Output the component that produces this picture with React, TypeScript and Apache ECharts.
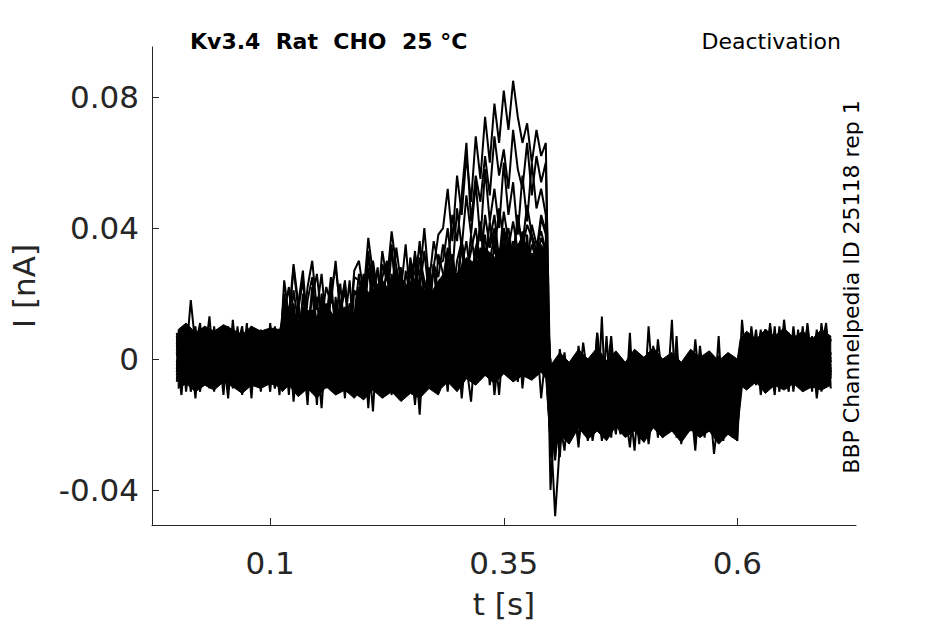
import React, { useEffect, useRef } from "react";
import * as echarts from "echarts";

// Sampling grid (s). Each trace is split into protocol segments; segment k starts at SEGMENT_STARTS[k].
const DT = 0.005;
const SEGMENT_STARTS = [0, 0.115, 0.195, 0.285, 0.4, 0.605];

// Current traces in pA, one array per protocol segment.
const trace1 = [
  [3, -6, 8, -4, 1, -9, 5, -2, 7, -7, 0, 6, -5, 2, -8, 9, -3, 4, -6, 1, -10, 6, -1],
  [-4, 7, -13, 3, -2, 9, -6, 1, -15, 5, -3, 8, -5, 2, -7, 4],
  [6, -5, 2, -16, 8, -3, 5, -7, 1, 10, -4, 3, -14, 6, -2, -6, 9, -1],
  [-5, 8, -2, 6, -12, 4, 1, -6, 10, -3, 7, -11, 2, 5, -4, 9, -7, 3, -1, 6, -5, 8, -2],
  [-25, -3, -15, 1, -11, -4, -17, 0, -9, -13, -2, -16, -6, 2, -12, -8, -19, -1, -10, -5, -14, 10, -9, -18, -3, -7, -13, 0, -11, -16, -4, -8, 1, -15, -6, -12, -2, -17, -5, -10, -1],
  [5, -7, 3, -4, 8, -2, -9, 6, -1, 4, -6, 9, -3, 1, -8, 5, -5, 2, 7, -4],
];
const trace2 = [
  [-7, 4, -2, 9, -5, 2, -8, 6, -1, 3, -11, 7, -4, 5, -6, 1, 8, -3, -7, 4, -2, 10, -5],
  [9, -2, 6, -6, 11, -1, 4, -14, 8, 2, -4, 12, -3, 7, -5, 5],
  [12, -2, 9, 0, 14, -10, 7, 3, -3, 11, 1, 6, -13, 10, 4, -1, 13, 2],
  [4, 14, -1, 10, 6, -3, 12, 2, 9, -2, 15, 5, 0, 11, -4, 8, 13, 1, 7, -2, 10, 3, 6],
  [-13, -31, -5, -19, -9, -15, -3, -21, -10, -6, -17, -12, -1, -20, -8, -14, -4, -23, -11, -7, -16, -2, -13, -19, -9, -5, -22, -10, -15, -3, -18, -8, -12, -21, -6, -14, 7, -17, -11, -7, -20],
  [-6, 4, -3, 7, -8, 2, 5, -5, 10, -2, -7, 3, -4, 6, 1, -9, 4, -1, 8, -6],
];
const trace3 = [
  [6, -3, 1, 18, 4, 11, -6, 2, -4, 7, -1, -9, 5, 0, -5, 8, -2, 3, -10, 6, -3, 1, 7],
  [2, 14, -3, 9, 5, -12, 13, 1, 8, -2, 11, 4, -4, 15, 0, 7],
  [16, 3, 12, 20, 5, 9, -1, 14, 22, 6, 11, 2, 17, 8, -2, 13, 19, 4],
  [12, 24, 9, 18, 6, 21, 14, 27, 10, 16, 23, 8, 19, 13, 26, 11, 20, 5, 17, 22, 9, 15, 24],
  [-4, -22, -10, -18, -6, -14, -25, -8, -12, -2, -17, 13, -21, -5, -13, -16, -1, -10, -19, -7, -14, -23, -4, -11, -8, -18, -13, -5, -20, -9, -15, -3, -12, -24, -7, -16, -10, -4, -19, -11, -14],
  [3, -8, 6, -2, -6, 9, -4, 1, -10, 4, -3, 7, -7, 2, -1, 5, -9, 3, 11, -5],
];
const trace4 = [
  [-3, 8, -9, 2, 5, -6, 10, -2, -7, 4, 1, -12, 6, -4, 9, -1, -6, 3, 7, -8, 2, -5, 4],
  [18, 3, 12, -2, 16, 7, 22, 1, 10, 14, -1, 19, 6, 11, 24, 4],
  [10, 24, 14, 30, 8, 20, 26, 12, 28, 16, 6, 22, 31, 13, 18, 27, 9, 21],
  [24, 14, 32, 20, 36, 12, 28, 24, 34, 16, 30, 38, 20, 26, 35, 15, 30, 24, 38, 18, 32, 22, 28],
  [-19, -11, -27, -15, -6, -22, -13, -18, -9, -25, -16, -12, -21, 4, -17, -23, -10, -14, -28, -8, -19, -15, -11, -24, -7, -16, -20, -13, -26, -9, -18, -22, -6, -15, -12, -29, -17, -10, -23, -14, -21],
  [-8, 2, -5, 6, -11, -1, 4, -7, 1, -4, 8, -9, -2, 5, -6, 3, -12, 0, 6, -3],
];
const trace5 = [
  [2, -11, 5, -3, 8, -7, 1, 13, -4, 6, -9, 3, -2, 7, -6, 4, -12, 8, -1, 5, -4, 0, -8],
  [8, -4, 14, 2, 20, 6, -1, 12, 17, 3, 9, -3, 15, 24, 5, 11],
  [22, 8, 28, 16, 12, 25, 30, 14, 20, 10, 27, 19, 33, 15, 24, 11, 29, 18],
  [24, 34, 18, 30, 36, 24, 38, 28, 42, 32, 36, 44, 30, 40, 34, 42, 33, 38, 28, 41, 35, 39, 33],
  [-40, -15, -30, -7, -19, -11, -3, -17, -8, -22, -5, -13, 7, -16, -10, -6, -21, -4, -12, -18, -2, -14, -9, -20, -7, -1, -15, -11, -25, -5, -17, -8, -13, -3, -19, -10, -6, -22, -12, -4, -16],
  [12, -3, 7, -6, 2, 9, -8, 4, -1, 6, -5, 10, -2, 3, -7, 5, 0, -4, 8, -9],
];
const trace6 = [
  [-5, 3, 9, -2, -8, 5, -4, 8, -6, 2, -1, 8, -9, 4, 10, -3, 6, -7, 1, -5, 7, -2, 3],
  [14, 22, 6, 17, 27, 9, 15, 4, 20, 12, 25, 7, 18, 13, 2, 21],
  [18, 26, 12, 30, 20, 24, 16, 33, 22, 28, 14, 27, 19, 31, 24, 17, 29, 25],
  [35, 28, 44, 36, 50, 66, 42, 56, 48, 62, 50, 68, 56, 64, 52, 70, 58, 52, 66, 50, 62, 54, 60],
  [-10, -26, -18, -6, -22, -13, -17, -8, -20, -14, 8, -23, -11, -16, -3, -19, -12, -7, -21, -15, -9, -24, -6, -13, -18, -10, 12, -20, -14, -8, -22, -12, -5, -17, -11, -19, -7, -15, -23, -10, -6],
  [-3, 6, -8, 1, 4, -5, 11, -2, 8, -6, 2, -10, 5, -1, 7, -4, 9, -7, 3, 6],
];
const trace7 = [
  [8, -2, 4, -10, 1, 6, -5, 3, -3, 9, -8, 2, 5, -1, -4, 11, -7, 0, 6, -3, 9, -9, 2],
  [-2, 10, 4, 16, -3, 8, 13, 1, 18, 6, -4, 11, 3, 15, 9, -1],
  [14, 6, 20, 11, 3, 17, 9, 25, 13, 7, 21, 15, 4, 19, 12, 26, 8, 16],
  [18, 32, 24, 22, 36, 26, 33, 40, 28, 44, 34, 40, 30, 45, 36, 32, 42, 35, 47, 38, 33, 44, 39],
  [-8, -24, -2, -16, -11, -5, -20, -7, -14, 0, -17, -10, -4, -22, -12, -6, -15, 8, -18, -9, -13, -3, -21, -8, -5, -16, -11, 7, -19, -7, -14, -10, -2, -23, -6, -12, -17, -4, -15, -9, -3],
  [6, -1, -7, 4, -3, 9, -5, 2, -8, 5, -2, 7, -6, 1, 10, -4, 3, -9, 4, -1],
];
const trace8 = [
  [-1, 6, -7, 3, 10, -4, 2, -9, 7, -2, 4, -6, 12, -3, 1, -8, 5, 3, -5, 9, -1, -6, 4],
  [20, 10, 28, 15, 24, 8, 19, 26, 12, 22, 17, 30, 14, 21, 9, 25],
  [24, 17, 31, 22, 27, 15, 29, 20, 34, 23, 18, 30, 26, 21, 33, 19, 28, 38],
  [40, 52, 36, 56, 44, 62, 48, 68, 55, 74, 60, 78, 66, 82, 70, 85, 74, 66, 72, 60, 70, 62, 66],
  [-20, -48, -26, -10, -21, -15, -6, -19, -12, -24, -8, -17, -4, -20, -13, -9, -23, -7, -16, -11, -2, -18, -14, -22, -5, -10, -17, -8, -25, -12, -6, -20, -15, -3, -18, -10, -14, -21, -7, -16, -9],
  [4, -6, 10, -2, 7, -9, 3, 5, -4, 12, -1, -7, 6, -3, 2, -10, 8, -5, 1, 6],
];
const trace9 = [
  [-4, 9, -8, 2, -12, 6, 1, -6, 10, -3, 4, -9, 7, -1, -5, 8, -10, 3, 5, -7, 11, -2, -6],
  [5, -11, 8, -4, 2, -14, 9, -1, 6, -9, 12, -5, 3, -12, 7, -2],
  [-8, 6, -15, 4, 10, -6, 1, -11, 8, -3, 13, -9, 2, -17, 7, -4, 11, -7],
  [3, -10, 9, -5, 12, -2, -13, 6, -1, 10, -8, 4, -11, 7, 0, -6, 11, -9, 5, -3, 8, -12, 2],
  [0, -17, 3, -9, -3, -13, 4, -7, -1, -11, 8, -5, -14, 1, -8, -2, -16, 3, -6, -10, 0, -4, -12, 6, -7, -1, -15, 2, -9, -3, -6, -13, 4, -8, -2, -11, 1, -5, -14, -1, -7],
  [-5, 8, -2, 6, -9, 3, -4, 10, -7, 1, 5, -6, 2, -10, 7, -3, 4, -8, 9, -1],
];
const trace10 = [
  [7, -5, 3, -1, -9, 8, -4, 5, -7, 2, 9, -3, -6, 4, -11, 6, 0, -4, 8, -8, 3, -2, 6],
  [-3, 9, 1, -8, 11, 4, -5, 7, -2, 13, 0, -6, 8, 3, -9, 10],
  [3, 12, -4, 9, 1, 15, -3, 7, -9, 11, 4, -2, 14, 6, -6, 9, 0, 12],
  [8, 16, 2, 12, -3, 18, 7, 11, -1, 15, 9, 3, 17, -2, 12, 6, 19, 4, 10, -4, 14, 8, 13],
  [-14, -30, -18, -6, -22, -11, -16, -4, -19, -13, -8, -24, -10, -17, -3, -15, -21, -9, -12, -26, -7, -14, -18, -5, -20, -11, -15, -8, -23, -2, -13, -17, -10, -21, -6, -16, -12, -25, -9, -14, -18],
  [2, -9, 5, -3, 8, -6, 1, -11, 6, -2, 3, -8, 9, -4, -1, 7, -7, 4, -5, 2],
];
const trace11 = [
  [-2, 5, -10, 7, -3, 1, 9, -7, 4, -5, 6, -2, -8, 10, -4, 2, -6, 7, -9, 3, -1, 5, -3],
  [12, 0, 17, 6, -3, 14, 9, 19, 2, 11, -2, 16, 7, 13, -1, 10],
  [20, 9, 16, 4, 23, 13, 8, 26, 15, 3, 19, 11, 24, 6, 17, 22, 10, 18],
  [22, 14, 30, 18, 26, 10, 28, 21, 33, 15, 25, 20, 31, 17, 29, 23, 35, 19, 27, 16, 30, 24, 26],
  [-2, -16, -8, 2, -12, -4, -9, 5, -6, -14, -1, -10, -5, 7, -11, -3, -7, -15, 0, -8, -4, -12, 4, -6, -10, -2, -13, 1, -7, -5, -11, 6, -9, -3, -14, -1, -6, -10, -4, -8, 0],
  [-7, 6, -1, 9, -4, 3, -9, 5, 0, -5, 8, -3, 4, -7, 11, -2, 6, -10, 3, -4],
];
const trace12 = [
  [5, -8, 1, 6, -3, -10, 4, -1, 8, -6, 3, 10, -5, -2, 7, -9, 1, 5, -4, 8, -7, 2, -11],
  [16, 6, 21, 11, 3, 18, 25, 9, 14, 1, 20, 12, 23, 7, 17, 13],
  [26, 15, 33, 20, 11, 29, 24, 35, 17, 27, 13, 31, 22, 36, 18, 28, 14, 32],
  [26, 18, 32, 22, 36, 26, 20, 34, 28, 38, 24, 35, 30, 40, 27, 36, 31, 39, 28, 35, 30, 37, 33],
  [-24, -10, -19, -28, -13, -7, -21, -15, -25, -11, -17, -4, -20, -14, -23, -9, -16, -27, -12, -18, -6, -22, -15, -10, -24, -13, -19, -3, -17, -21, -11, -26, -14, -8, -20, -16, -12, -23, -9, -18, -25],
  [6, -4, 2, -8, 9, -1, 4, -6, 7, -3, -10, 5, 1, -5, 8, -2, 3, -9, 6, 0],
];
const trace13 = [
  [-6, 2, 7, -5, 3, -9, 6, -2, 1, -7, 9, -4, 5, -1, -8, 4, 10, -6, 2, -3, 6, -9, 1],
  [6, -5, 12, 3, -2, 10, 15, -4, 8, 1, 13, -6, 9, 4, -1, 14],
  [14, 24, 8, 19, 28, 12, 22, 6, 26, 16, 10, 30, 18, 25, 9, 21, 27, 15],
  [24, 16, 30, 22, 28, 36, 24, 34, 40, 28, 42, 32, 46, 36, 40, 30, 44, 34, 41, 37, 30, 43, 38],
  [-28, -12, -22, -5, -17, -10, -26, -14, -8, -20, -2, -15, -11, -24, -7, -18, -13, -4, -21, -9, -16, -25, -6, -12, -19, -1, -14, -22, -10, -17, -5, -23, -8, -13, -20, -3, -16, -11, -7, -24, -15],
  [-2, 7, -6, 3, -9, 5, -1, 8, -4, 2, -7, 6, -3, 10, -8, 1, 5, -5, 3, -2],
];
const trace14 = [
  [4, -3, -8, 6, -1, 9, -6, 3, -10, 5, -2, 8, -4, 0, 6, -7, 3, -5, 9, -2, -8, 4, 0],
  [24, 13, 29, 17, 8, 22, 30, 15, 26, 11, 21, 28, 16, 23, 10, 27],
  [30, 20, 37, 26, 16, 33, 24, 39, 28, 21, 35, 18, 32, 25, 40, 23, 36, 29],
  [30, 40, 26, 46, 34, 50, 38, 54, 36, 58, 42, 52, 40, 60, 44, 54, 38, 56, 42, 60, 46, 52, 44],
  [-30, -16, -24, -9, -20, -13, -27, -6, -18, -22, -11, -25, -15, -3, -19, -12, -23, -8, -17, -21, -10, -26, -14, -5, -20, -16, -11, -24, -7, -18, -13, -28, -9, -15, -22, -12, -19, -4, -17, -21, -14],
  [3, -8, 7, -2, 5, -6, 10, -4, 1, -9, 6, 0, -5, 8, -3, 4, -7, 11, -1, 2],
];

const TRACES = [
  trace1, trace2, trace3, trace4, trace5, trace6, trace7,
  trace8, trace9, trace10, trace11, trace12, trace13, trace14,
];

// Solid core of the overlapping sweeps: rows of [t (s), low (nA), high (nA)].
const CORE = [
  [0.0015, -0.009, 0.009], [0.01, -0.0075, 0.011], [0.02, -0.01, 0.008], [0.03, -0.008, 0.01],
  [0.04, -0.0095, 0.0085], [0.05, -0.007, 0.0105], [0.06, -0.0085, 0.009], [0.07, -0.0105, 0.0075],
  [0.08, -0.008, 0.01], [0.09, -0.009, 0.0085], [0.1, -0.0075, 0.0095], [0.11, -0.0085, 0.009],
  [0.113, -0.01, 0.012], [0.12, -0.008, 0.016], [0.13, -0.0115, 0.011], [0.14, -0.009, 0.015],
  [0.15, -0.012, 0.013], [0.16, -0.0085, 0.017], [0.17, -0.011, 0.012], [0.18, -0.0095, 0.016],
  [0.19, -0.012, 0.014],
  [0.193, -0.011, 0.018], [0.2, -0.0125, 0.022], [0.21, -0.0095, 0.019], [0.22, -0.012, 0.024],
  [0.23, -0.01, 0.02], [0.24, -0.013, 0.025], [0.25, -0.0105, 0.021], [0.26, -0.012, 0.023],
  [0.27, -0.009, 0.019], [0.28, -0.011, 0.024],
  [0.283, -0.009, 0.025], [0.29, -0.007, 0.028], [0.3, -0.01, 0.026], [0.31, -0.006, 0.031],
  [0.32, -0.008, 0.029], [0.33, -0.005, 0.034], [0.34, -0.0075, 0.031], [0.35, -0.0045, 0.036],
  [0.36, -0.007, 0.033], [0.37, -0.005, 0.037], [0.38, -0.0065, 0.032], [0.39, -0.004, 0.035],
  [0.395, -0.006, 0.033],
  [0.4, -0.027, -0.002], [0.41, -0.023, 0.002], [0.42, -0.026, -0.001], [0.43, -0.021, 0.003],
  [0.44, -0.0245, 0.0], [0.45, -0.022, 0.0035], [0.46, -0.025, -0.0005], [0.47, -0.0205, 0.0025],
  [0.48, -0.024, -0.001], [0.49, -0.022, 0.003], [0.5, -0.0255, 0.0005], [0.51, -0.021, 0.0035],
  [0.52, -0.024, 0.0], [0.53, -0.022, 0.002], [0.54, -0.0255, -0.001], [0.55, -0.0215, 0.003],
  [0.56, -0.024, 0.0005], [0.57, -0.022, 0.0025], [0.58, -0.026, -0.0005], [0.59, -0.023, 0.002],
  [0.6, -0.025, 0.0],
  [0.603, -0.008, 0.006], [0.61, -0.0095, 0.0085], [0.62, -0.007, 0.006], [0.63, -0.0105, 0.009],
  [0.64, -0.008, 0.007], [0.65, -0.0095, 0.0095], [0.66, -0.0075, 0.0065], [0.67, -0.01, 0.0085],
  [0.68, -0.0085, 0.006], [0.69, -0.0095, 0.009], [0.7, -0.008, 0.007],
];

const X_TICKS = [0.1, 0.35, 0.6];
const Y_TICKS = [-0.04, 0, 0.04, 0.08];
const X_RANGE = [-0.0265, 0.727];
const Y_RANGE = [-0.0507, 0.0953];

const TITLE = "Kv3.4  Rat  CHO  25 °C";
const PROTOCOL = "Deactivation";
const SOURCE = "BBP Channelpedia ID 25118 rep 1";

function buildSeriesData(trace: number[][]): number[][] {
  const out: number[][] = [];
  trace.forEach((seg, k) => {
    seg.forEach((v, i) => {
      out.push([SEGMENT_STARTS[k] + i * DT, v / 1000]);
    });
  });
  return out;
}

export default function App() {
  const ref = useRef<HTMLDivElement>(null);
  useEffect(() => {
    if (!ref.current) return;
    const chart = echarts.init(ref.current, undefined, { renderer: "svg" });
    const axisColor = "#262626";
    const font = "DejaVu Sans";
    chart.setOption({
      animation: false,
      backgroundColor: "#ffffff",
      grid: { left: 152, right: 89, top: 47, bottom: 99, containLabel: false },
      xAxis: {
        type: "value",
        min: X_RANGE[0],
        max: X_RANGE[1],
        name: "t [s]",
        nameLocation: "middle",
        nameGap: 63,
        nameTextStyle: { fontFamily: font, fontSize: 31, color: axisColor },
        axisLine: { show: true, onZero: false, lineStyle: { color: axisColor, width: 1 } },
        axisTick: { show: true, inside: true, length: 7, customValues: X_TICKS, lineStyle: { color: axisColor } },
        axisLabel: {
          customValues: X_TICKS,
          fontFamily: font,
          fontSize: 31,
          color: axisColor,
          margin: 22,
          formatter: (v: number) => String(v),
        },
        splitLine: { show: false },
      },
      yAxis: {
        type: "value",
        min: Y_RANGE[0],
        max: Y_RANGE[1],
        name: "I [nA]",
        nameLocation: "middle",
        nameGap: 113,
        nameTextStyle: { fontFamily: font, fontSize: 31, color: axisColor },
        axisLine: { show: true, onZero: false, lineStyle: { color: axisColor, width: 1 } },
        axisTick: { show: true, inside: true, length: 7, customValues: Y_TICKS, lineStyle: { color: axisColor } },
        axisLabel: {
          customValues: Y_TICKS,
          fontFamily: font,
          fontSize: 31,
          color: axisColor,
          margin: 13,
          formatter: (v: number) => (v === 0 ? "0" : String(v)),
        },
        splitLine: { show: false },
      },
      series: [
        {
          type: "custom",
          silent: true,
          z: 1,
          data: CORE,
          encode: { x: 0, y: [1, 2] },
          renderItem: (params: any, api: any) => {
            if (params.dataIndex !== 0) return null;
            const pts: number[][] = [];
            for (let i = 0; i < CORE.length; i++) pts.push(api.coord([CORE[i][0], CORE[i][2]]));
            for (let i = CORE.length - 1; i >= 0; i--) pts.push(api.coord([CORE[i][0], CORE[i][1]]));
            return {
              type: "polygon",
              shape: { points: pts },
              style: { fill: "#000000", stroke: "#000000", lineWidth: 1 },
            };
          },
        },
        ...TRACES.map((t) => ({
          type: "line",
          data: buildSeriesData(t),
          showSymbol: false,
          symbol: "none",
          silent: true,
          lineStyle: { color: "#000000", width: 2 },
          z: 2,
        })),
      ],
      graphic: [
        {
          type: "text",
          x: 190,
          y: 41,
          style: { text: TITLE, font: `bold 22px "${font}"`, fill: "#000000", align: "left", verticalAlign: "middle" },
        },
        {
          type: "text",
          x: 841,
          y: 41,
          style: { text: PROTOCOL, font: `22px "${font}"`, fill: "#000000", align: "right", verticalAlign: "middle" },
        },
        {
          type: "text",
          x: 851,
          y: 287,
          rotation: Math.PI / 2,
          style: { text: SOURCE, font: `22px "${font}"`, fill: "#000000", align: "center", verticalAlign: "middle" },
        },
      ],
    });
    return () => chart.dispose();
  }, []);
  return (
    <div
      ref={ref}
      style={{ position: "absolute", left: 0, top: 0, width: 945, height: 624, background: "#fff" }}
    />
  );
}
